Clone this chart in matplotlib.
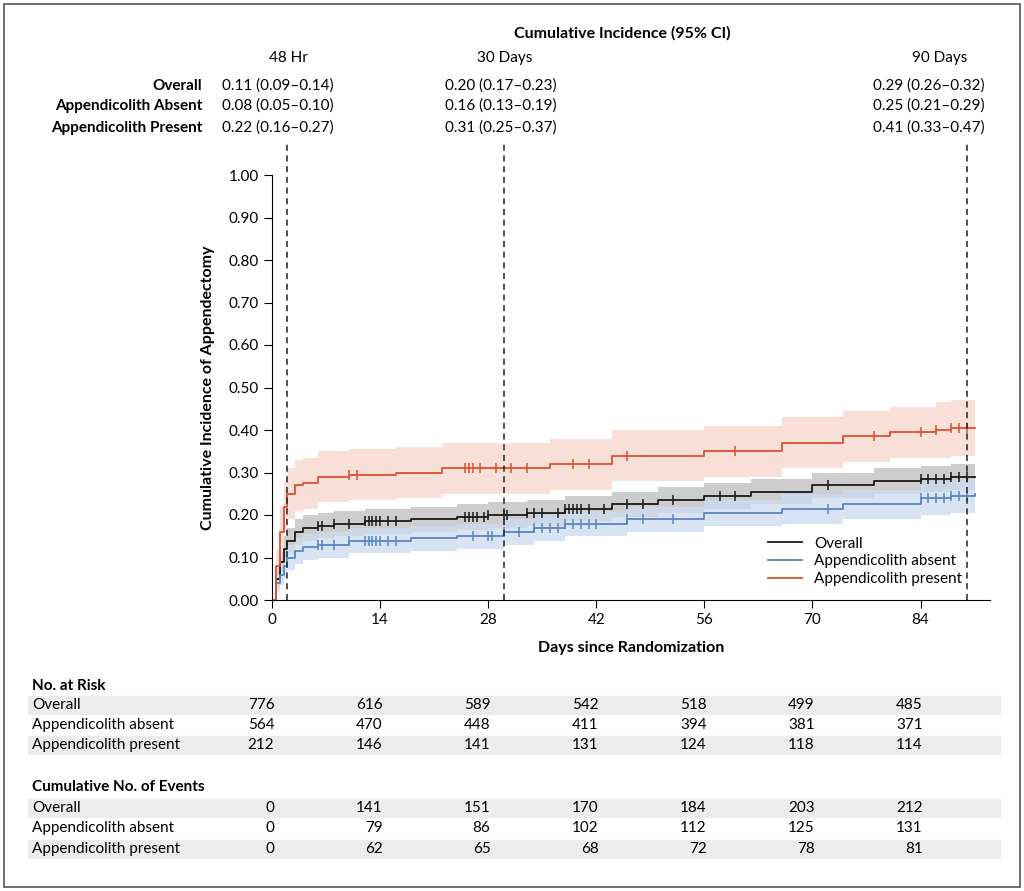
import numpy as np
import matplotlib
matplotlib.use("Agg")
from matplotlib import pyplot as plt
from matplotlib.patches import Rectangle
import matplotlib.transforms as mtransforms

plt.rcParams['font.family'] = ['Lato', 'DejaVu Sans']

# step curves (day, cumulative incidence)
overall_t = [0, 0.5, 1, 1.5, 2, 3, 4, 6, 8, 12, 18, 24, 28, 33, 38, 44, 50, 56, 62, 70, 78, 84, 88, 91]
overall_y = [0, 0.05, 0.09, 0.12, 0.14, 0.16, 0.17, 0.175, 0.18, 0.185, 0.19, 0.195, 0.20, 0.205, 0.215, 0.225, 0.235, 0.245, 0.255, 0.27, 0.28, 0.285, 0.29, 0.29]
absent_t = [0, 0.5, 1, 1.5, 2, 3, 4, 6, 10, 18, 24, 30, 34, 38, 46, 56, 66, 74, 84, 88, 91]
absent_y = [0, 0.04, 0.06, 0.08, 0.10, 0.115, 0.125, 0.13, 0.14, 0.145, 0.15, 0.16, 0.17, 0.18, 0.19, 0.205, 0.215, 0.225, 0.24, 0.245, 0.25]
present_t = [0, 0.5, 1, 1.5, 2, 3, 4, 6, 10, 16, 22, 32, 36, 44, 56, 66, 74, 80, 86, 88, 91]
present_y = [0, 0.08, 0.16, 0.22, 0.25, 0.27, 0.275, 0.29, 0.295, 0.30, 0.31, 0.31, 0.32, 0.34, 0.35, 0.37, 0.385, 0.395, 0.40, 0.405, 0.405]
overall_ci = [0, 0.02, 0.025, 0.03, 0.03, 0.03, 0.03, 0.03, 0.03, 0.03, 0.03, 0.03, 0.03, 0.03, 0.03, 0.03, 0.03, 0.03, 0.03, 0.03, 0.03, 0.03, 0.03, 0.03]
absent_ci = [0, 0.02, 0.025, 0.03, 0.03, 0.03, 0.03, 0.03, 0.03, 0.03, 0.03, 0.03, 0.03, 0.03, 0.03, 0.03, 0.035, 0.035, 0.04, 0.04, 0.04]
present_ci = [0, 0.04, 0.06, 0.06, 0.06, 0.06, 0.06, 0.06, 0.06, 0.06, 0.06, 0.06, 0.06, 0.06, 0.06, 0.06, 0.06, 0.06, 0.065, 0.065, 0.065]
overall_cens = [6, 6.5, 8, 10, 12, 12.5, 13, 13.5, 14, 15, 16, 25, 25.5, 26, 26.5, 27.5, 28, 30, 30.5, 33, 34, 35, 37, 38, 38.5, 39, 39.5, 40, 41, 43, 46, 48, 52, 58, 60, 72, 84, 85, 86, 87, 88, 89, 90]
absent_cens = [6, 6.5, 8, 10, 12, 12.5, 13, 13.5, 14, 15, 16, 26, 28, 28.5, 30, 32, 34, 35, 36, 37, 38, 39, 40, 41, 42, 46, 48, 52, 72, 84, 85, 86, 87, 88, 89, 90]
present_cens = [10, 11, 25, 25.5, 26, 27, 29, 31, 33, 39, 41, 46, 60, 78, 84, 86, 88, 89, 90]

labels = ['Overall', 'Appendicolith absent', 'Appendicolith present']
colors = ['#1a1a1a', '#5a86c6', '#d9532f']
band_colors = ['#bdbdbd', '#cddcf0', '#f6d5cb']

risk_days = [0, 14, 28, 42, 56, 70, 84]
risk_overall = [776, 616, 589, 542, 518, 499, 485]
risk_absent = [564, 470, 448, 411, 394, 381, 371]
risk_present = [212, 146, 141, 131, 124, 118, 114]
ev_overall = [0, 141, 151, 170, 184, 203, 212]
ev_absent = [0, 79, 86, 102, 112, 125, 131]
ev_present = [0, 62, 65, 68, 72, 78, 81]

ci_days = [2, 30, 90]
ci_titles = ['48 Hr', '30 Days', '90 Days']
ci_rows = ['Overall', 'Appendicolith Absent', 'Appendicolith Present']
ci_vals = [['0.11 (0.09\u20130.14)', '0.20 (0.17\u20130.23)', '0.29 (0.26\u20130.32)'],
           ['0.08 (0.05\u20130.10)', '0.16 (0.13\u20130.19)', '0.25 (0.21\u20130.29)'],
           ['0.22 (0.16\u20130.27)', '0.31 (0.25\u20130.37)', '0.41 (0.33\u20130.47)']]

W, H = 1024, 891
fig = plt.figure(figsize=(W / 100, H / 100), dpi=100)
fig.patches.append(Rectangle((0.004, 0.004), 0.992, 0.992, transform=fig.transFigure,
                             fill=False, ec='#555555', lw=1.2))
ax = fig.add_axes([272 / W, 1 - 600 / H, (990 - 272) / W, (600 - 175) / H])

series = [(overall_t, overall_y, overall_ci, overall_cens),
          (absent_t, absent_y, absent_ci, absent_cens),
          (present_t, present_y, present_ci, present_cens)]
for (t, y, ci, cens), lab, c, bc in zip(series, labels, colors, band_colors):
    t = np.array(t); y = np.array(y); ci = np.array(ci)
    ax.fill_between(t, np.clip(y - ci, 0, None), y + ci, step='post', color=bc, alpha=0.75, lw=0)
    ax.step(t, y, where='post', color=c, lw=1.3, label=lab)
    cy = y[np.searchsorted(t, cens, side='right') - 1]
    ax.plot(cens, cy, ls='none', marker='|', ms=7, mew=1.1, color=c)

ytop = (600 - 142) / 425
for d in ci_days:
    ax.plot([d, d], [0, ytop], ls='--', color='#222222', lw=1.1, clip_on=False, dashes=(4, 3))

ax.set_xlim(0, 93)
ax.set_ylim(0, 1)
ax.set_xticks(risk_days)
ax.set_yticks(np.arange(0, 1.01, 0.1))
ax.set_yticklabels(['%.2f' % v for v in np.arange(0, 1.01, 0.1)])
ax.spines[['top', 'right']].set_visible(False)
ax.tick_params(direction='out', length=6, labelsize=11)
ax.set_xlabel('Days since Randomization', fontsize=11.5, fontweight='bold', labelpad=10)
ax.set_ylabel('Cumulative Incidence of Appendectomy', fontsize=11.5, fontweight='bold', labelpad=10)
ax.legend(loc='lower right', bbox_to_anchor=(0.98, 0.0), frameon=False, fontsize=11,
          handlelength=2.2, labelspacing=0.25)

# top annotation block
fig.text(622 / W, 1 - 33 / H, 'Cumulative Incidence (95% CI)', ha='center', va='center',
         fontsize=11.5, fontweight='bold')
title_x = [288, 505, 940]
val_x = [222, 445, 873]
row_y = [86, 106, 128]
for tx, tt in zip(title_x, ci_titles):
    fig.text(tx / W, 1 - 58 / H, tt, ha='center', va='center', fontsize=11)
for ry, rl, vals in zip(row_y, ci_rows, ci_vals):
    fig.text(202 / W, 1 - ry / H, rl, ha='right', va='center', fontsize=11, fontweight='bold')
    for vx, v in zip(val_x, vals):
        fig.text(vx / W, 1 - ry / H, v, ha='left', va='center', fontsize=11)

# tables
trans = mtransforms.blended_transform_factory(ax.transData, fig.transFigure)
def table(header_y, rows_y, data):
    fig.text(32 / W, 1 - header_y / H, header_y == 686 and 'No. at Risk' or 'Cumulative No. of Events',
             ha='left', va='center', fontsize=11, fontweight='bold')
    for i, (ry, lab, vals) in enumerate(zip(rows_y, labels, data)):
        if i != 1:
            fig.patches.append(Rectangle((28 / W, 1 - (ry + 9) / H), 972 / W, 18 / H,
                                         transform=fig.transFigure, color='#ececec', zorder=0))
        fig.text(32 / W, 1 - ry / H, lab, ha='left', va='center', fontsize=11)
        for d, v in zip(risk_days, vals):
            fig.text(d + 0.3, 1 - ry / H, str(v), transform=trans, ha='right', va='center', fontsize=11)

table(686, [705, 725, 745], [risk_overall, risk_absent, risk_present])
table(787, [808, 828, 849], [ev_overall, ev_absent, ev_present])

fig.savefig('out.png', dpi=100)
